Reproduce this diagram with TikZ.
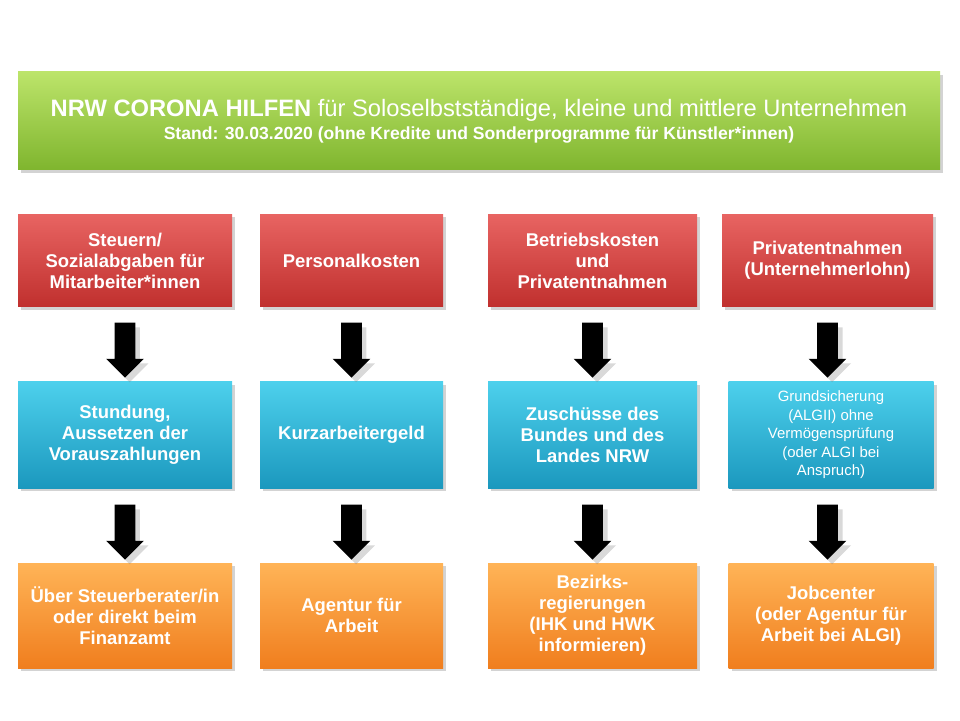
\documentclass[tikz,border=0pt]{standalone}
\usepackage{fontspec}
\setmainfont{Liberation Sans}
\usepackage{tikz}
\usetikzlibrary{shapes.arrows,shadows}
\pgfdeclarelayer{nodelayer}
\pgfdeclarelayer{edgelayer}
\pgfsetlayers{edgelayer,nodelayer,main}
\definecolor{redtop}{HTML}{E86462}
\definecolor{redbot}{HTML}{C0302E}
\definecolor{bluetop}{HTML}{4DD0EC}
\definecolor{bluebot}{HTML}{1B98BE}
\definecolor{orangetop}{HTML}{FFB457}
\definecolor{orangebot}{HTML}{F07E1E}
\definecolor{greentop}{HTML}{BCE46A}
\definecolor{greenbot}{HTML}{7FB52E}
\tikzstyle{box}=[shape=rectangle, inner sep=1pt, align=center, text=white, font=\bfseries\fontsize{10.5}{12}\selectfont, minimum height=1.85cm, drop shadow={opacity=0.35, shadow xshift=0.06cm, shadow yshift=-0.06cm}]
\tikzstyle{red box}=[style=box, top color=redtop, bottom color=redbot]
\tikzstyle{blue box}=[style=box, top color=bluetop, bottom color=bluebot, minimum height=2.12cm]
\tikzstyle{orange box}=[style=box, top color=orangetop, bottom color=orangebot, minimum height=2.1cm]
\tikzstyle{title box}=[style=box, top color=greentop, bottom color=greenbot, minimum width=18.44cm, minimum height=1.96cm]
\tikzstyle{down arrow}=[shape=single arrow, rotate=-90, fill=black, minimum height=1.1cm, inner xsep=0pt, inner ysep=0.2cm, single arrow head extend=0.17cm, single arrow tip angle=90, drop shadow={opacity=0.3}]
\begin{document}
\begin{tikzpicture}
	\useasboundingbox (0,0) rectangle (19.2,14.4);
	\begin{pgfonlayer}{nodelayer}
		\node [style=title box] (title) at (9.58, 11.98) {{\fontsize{13.5}{16}\selectfont NRW CORONA HILFEN \mdseries für Soloselbstständige, kleine und mittlere Unternehmen}\\[1pt] {\fontsize{10}{12}\selectfont Stand: 30.03.2020 (ohne Kredite und Sonderprogramme für Künstler*innen)}};
		\node [style=red box, minimum width=4.28cm] (r1) at (2.5, 9.19) {Steuern/\\Sozialabgaben für\\Mitarbeiter*innen};
		\node [style=red box, minimum width=3.66cm] (r2) at (7.03, 9.19) {Personalkosten};
		\node [style=red box, minimum width=4.18cm] (r3) at (11.85, 9.19) {Betriebskosten\\und\\Privatentnahmen};
		\node [style=red box, minimum width=4.22cm] (r4) at (16.55, 9.19) {Privatentnahmen\\(Unternehmerlohn)};
		\node [style=blue box, minimum width=4.28cm] (b1) at (2.5, 5.7) {Stundung,\\Aussetzen der\\Vorauszahlungen};
		\node [style=blue box, minimum width=3.66cm] (b2) at (7.03, 5.7) {Kurzarbeitergeld};
		\node [style=blue box, minimum width=4.18cm] (b3) at (11.85, 5.7) {Zuschüsse des\\Bundes und des\\Landes NRW};
		\node [style=blue box, minimum width=4.1cm, font=\fontsize{8.5}{10.5}\selectfont] (b4) at (16.62, 5.7) {Grundsicherung\\(ALGII) ohne\\Vermögensprüfung\\(oder ALGI bei\\Anspruch)};
		\node [style=orange box, minimum width=4.28cm] (o1) at (2.5, 2.09) {Über Steuerberater/in\\oder direkt beim\\Finanzamt};
		\node [style=orange box, minimum width=3.66cm] (o2) at (7.03, 2.09) {Agentur für\\Arbeit};
		\node [style=orange box, minimum width=4.18cm] (o3) at (11.85, 2.09) {Bezirks-\\regierungen\\(IHK und HWK\\informieren)};
		\node [style=orange box, minimum width=4.1cm] (o4) at (16.62, 2.09) {Jobcenter\\(oder Agentur für\\Arbeit bei ALGI)};
		\node [style=down arrow] (a1) at (2.5, 7.5) {};
		\node [style=down arrow] (a2) at (7.03, 7.5) {};
		\node [style=down arrow] (a3) at (11.85, 7.5) {};
		\node [style=down arrow] (a4) at (16.55, 7.5) {};
		\node [style=down arrow] (a5) at (2.5, 3.86) {};
		\node [style=down arrow] (a6) at (7.03, 3.86) {};
		\node [style=down arrow] (a7) at (11.85, 3.86) {};
		\node [style=down arrow] (a8) at (16.55, 3.86) {};
	\end{pgfonlayer}
\end{tikzpicture}
\end{document}
